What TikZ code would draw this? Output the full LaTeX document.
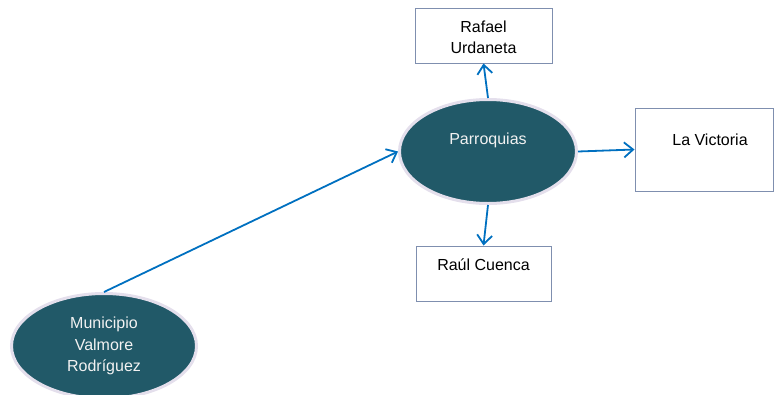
\documentclass[tikz,border=0pt]{standalone}
\usepackage{fontspec}
\setmainfont{Liberation Sans}
\usetikzlibrary{shapes.geometric,arrows.meta,calc}
\definecolor{tealfill}{HTML}{215968}
\definecolor{lavrim}{HTML}{E4DFEC}
\definecolor{linkblue}{HTML}{0070C0}
\definecolor{boxline}{HTML}{7F8FAF}
\definecolor{softwhite}{HTML}{F2F2F2}
\tikzset{
  blob/.style={ellipse, fill=tealfill, draw=lavrim, line width=3pt, inner sep=0pt},
  blobtext/.style={text=softwhite, align=center, font=\fontsize{16}{21.5}\selectfont, inner sep=0pt},
  card/.style={rectangle, draw=boxline, line width=1pt, fill=white, inner sep=0pt},
  cardtext/.style={text=black, align=center, font=\fontsize{16}{21.5}\selectfont, inner sep=0pt},
  link/.style={draw=linkblue, line width=1.8pt, -{Straight Barb[length=9pt,width=15pt,line width=1.8pt]}}
}
\begin{document}
\begin{tikzpicture}[x=1pt,y=-1pt]
\useasboundingbox (0,0) rectangle (776,394);
% central ellipse and the municipality ellipse
\node[blob, minimum width=177pt, minimum height=104pt] (par) at (488,151.5) {};
\node[blobtext] (partxt) at (488,140) {Parroquias};
\node[blob, minimum width=185pt, minimum height=105pt, text=softwhite, align=center,
      font=\fontsize{16}{21.5}\selectfont] (mun) at (104,346) {Municipio\\Valmore\\Rodríguez};
% parish boxes
\node[card, minimum width=137pt, minimum height=55pt] (raf) at (483.5,35.5) {};
\node[cardtext] (raftxt) at (483.5,37.5) {Rafael\\Urdaneta};
\node[card, minimum width=138pt, minimum height=83pt] (vic) at (704,149.5) {};
\node[cardtext] (victxt) at (710,140) {La Victoria};
\node[card, minimum width=135pt, minimum height=55pt] (rau) at (483.5,273.5) {};
\node[cardtext] (rautxt) at (483.5,265) {Raúl Cuenca};
% connectors
\draw[link] (mun.north) -- (par.west);
\draw[link] (par.north) -- (raf.south);
\draw[link] (par.east) -- (vic.west);
\draw[link] (par.south) -- (rau.north);
\end{tikzpicture}
\end{document}
